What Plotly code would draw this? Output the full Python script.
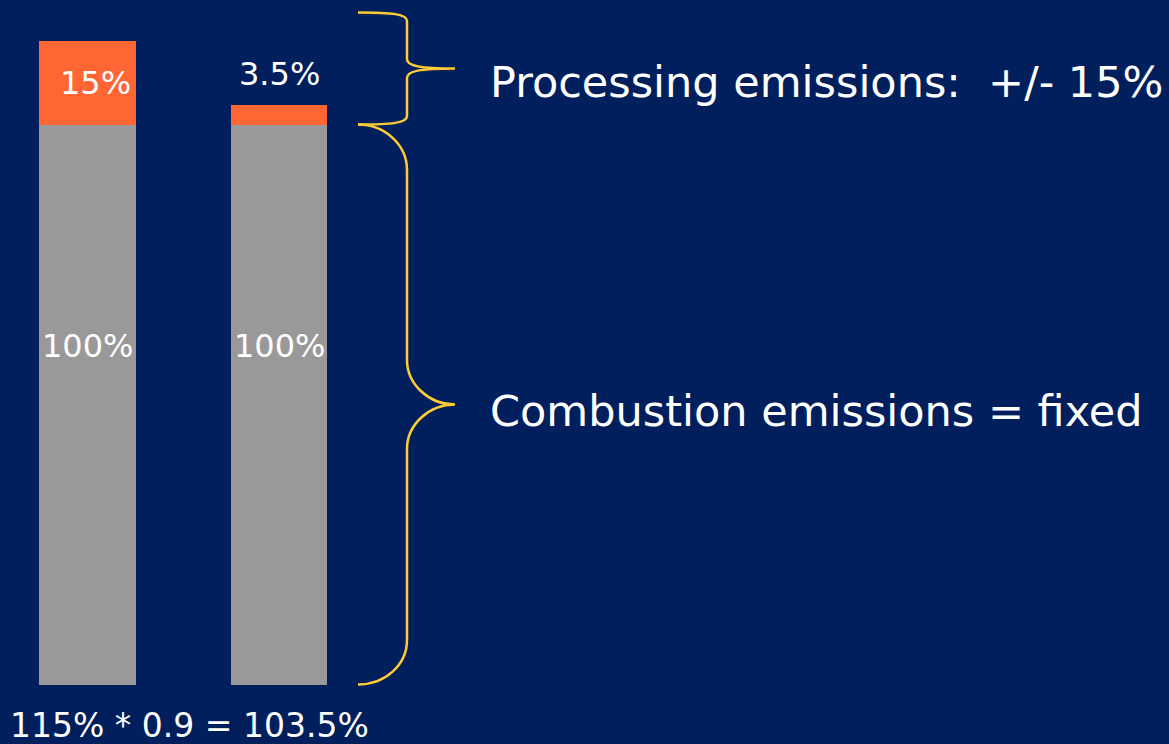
import plotly.graph_objects as go

# Data
bars = ["Before", "After"]
combustion = [100, 100]
processing = [15, 3.5]
summary_text = "115% * 0.9 = 103.5%"
processing_note = "Processing emissions:  +/- 15%"
combustion_note = "Combustion emissions = fixed"

W, H = 1169, 744
BG = "#001F5C"
ORANGE = "#FF6633"
GREY = "#999999"
YELLOW = "#FFCC33"
FONT = "Tahoma, 'DejaVu Sans', sans-serif"

# plot geometry (pixels)
y_base_px = 685
px_per_unit = 5.6
x0_px, step_px = 87.5, 191.5

x_idx = list(range(len(bars)))

fig = go.Figure()
fig.add_trace(go.Bar(x=x_idx, y=combustion, marker=dict(color=GREY, line=dict(width=0)),
                     width=0.506, hoverinfo="skip"))
fig.add_trace(go.Bar(x=x_idx, y=processing, marker=dict(color=ORANGE, line=dict(width=0)),
                     width=0.506, hoverinfo="skip"))


def px(x, y):
    """pixel position -> paper coordinates"""
    return x / W, 1 - y / H


def path_px(cmds):
    out = []
    for c in cmds:
        op, pts = c[0], c[1:]
        coords = []
        for i in range(0, len(pts), 2):
            X, Y = px(pts[i], pts[i + 1])
            coords.append(f"{X:.5f},{Y:.5f}")
        out.append(op + " ".join(coords))
    return " ".join(out)


upper_brace = path_px([
    ("M", 358, 12.5),
    ("C", 392, 12.5, 407, 14, 407, 21),
    ("L", 407, 59),
    ("C", 407, 66, 420, 68.5, 455, 68.5),
    ("C", 420, 68.5, 407, 71, 407, 78),
    ("L", 407, 116),
    ("C", 407, 123, 392, 124.5, 358, 124.5),
])
lower_brace = path_px([
    ("M", 358, 124.5),
    ("C", 385, 124.5, 407, 145, 407, 170),
    ("L", 407, 360),
    ("C", 407, 384, 428.5, 404.5, 455, 404.5),
    ("C", 428.5, 404.5, 407, 425, 407, 449),
    ("L", 407, 640),
    ("C", 407, 665, 385, 684.5, 358, 684.5),
])
for p in (upper_brace, lower_brace):
    fig.add_shape(type="path", path=p, xref="paper", yref="paper",
                  line=dict(color=YELLOW, width=2.5))

label_font = dict(family=FONT, size=32, color="white")
annotations = []
for i, v in enumerate(combustion):
    annotations.append(dict(x=i, y=v * 0.605, xref="x", yref="y", text=f"{v:g}%",
                            showarrow=False, font=label_font, xanchor="center", yanchor="middle"))
annotations.append(dict(x=0, y=combustion[0] + processing[0] / 2, xref="x", yref="y",
                        text=f"{processing[0]:g}%", showarrow=False, font=label_font,
                        xanchor="center", yanchor="middle", xshift=8))
annotations.append(dict(x=1, y=combustion[1] + processing[1], xref="x", yref="y",
                        text=f"{processing[1]:g}%", showarrow=False, font=label_font,
                        xanchor="center", yanchor="bottom", yshift=10))

big_font = dict(family=FONT, size=43, color="white")
X, Y = px(488, 82)
annotations.append(dict(x=X, y=Y, xref="paper", yref="paper", text=processing_note,
                        showarrow=False, font=big_font, xanchor="left", yanchor="middle"))
X, Y = px(488, 411)
annotations.append(dict(x=X, y=Y, xref="paper", yref="paper", text=combustion_note,
                        showarrow=False, font=big_font, xanchor="left", yanchor="middle"))
X, Y = px(8, 744)
annotations.append(dict(x=X, y=Y, xref="paper", yref="paper", text=summary_text,
                        showarrow=False, font=dict(family=FONT, size=33, color="white"),
                        xanchor="left", yanchor="bottom", yshift=-3))

fig.update_layout(
    width=W, height=H,
    margin=dict(l=0, r=0, t=0, b=0),
    paper_bgcolor=BG, plot_bgcolor=BG,
    barmode="stack", bargap=0, showlegend=False,
    xaxis=dict(range=[-x0_px / step_px, (W - x0_px) / step_px], visible=False, fixedrange=True),
    yaxis=dict(domain=[(H - y_base_px) / H, 1], range=[0, y_base_px / px_per_unit],
               visible=False, fixedrange=True),
    annotations=annotations,
)

fig.write_html("out.html", config={"displayModeBar": False})
